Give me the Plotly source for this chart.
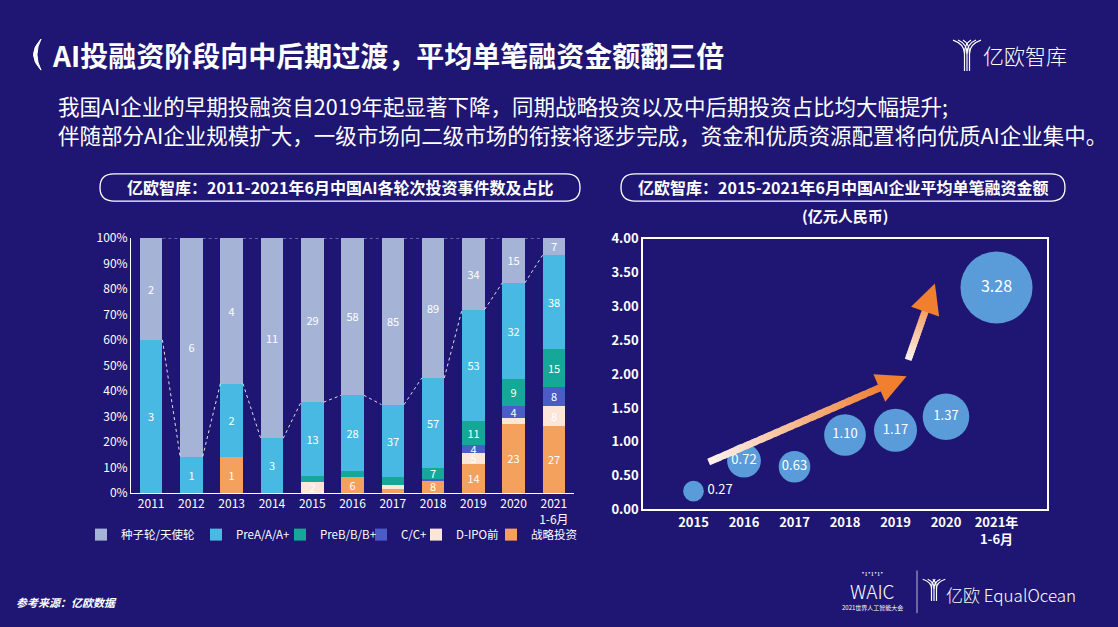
import numpy as np
import plotly.graph_objects as go

W, H = 1118, 627
def px(x): return x / W
def py(y): return 1 - y / H

# ---------------- data ----------------
years = ["2011", "2012", "2013", "2014", "2015", "2016", "2017", "2018", "2019", "2020", "2021<br>1-6月"]
seed  = [2, 6, 4, 11, 29, 58, 85, 89, 34, 15, 7]     # 种子轮/天使轮
prea  = [3, 1, 2, 3, 13, 28, 37, 57, 53, 32, 38]     # PreA/A/A+
preb  = [0, 0, 0, 0, 1, 2, 4, 7, 11, 9, 15]          # PreB/B/B+
cround = [0, 0, 0, 0, 0, 0, 0, 1, 4, 4, 8]           # C/C+
dipo  = [0, 0, 0, 0, 2, 0, 2, 0, 5, 2, 8]            # D-IPO前
strat = [0, 0, 1, 0, 0, 6, 2, 8, 14, 23, 27]         # 战略投资

amt_years = ["2015", "2016", "2017", "2018", "2019", "2020", "2021年<br>1-6月"]
amounts = [0.27, 0.72, 0.63, 1.10, 1.17, 1.37, 3.28]

# ---------------- styles ----------------
BG = "#1e1672"
FONT = "Noto Sans CJK SC"
series = [  # bottom -> top
    ("战略投资", strat, "#f4a15d"),
    ("D-IPO前", dipo, "#fbe6d8"),
    ("C/C+", cround, "#4b5cc6"),
    ("PreB/B/B+", preb, "#15a898"),
    ("PreA/A/A+", prea, "#47b9e2"),
    ("种子轮/天使轮", seed, "#a5b4d6"),
]
legend_sq_left = {"种子轮/天使轮": 103, "PreA/A/A+": 218, "PreB/B/B+": 302,
                  "C/C+": 383, "D-IPO前": 438, "战略投资": 513}
legend_keys = {"种子轮/天使轮": "legend", "PreA/A/A+": "legend2", "PreB/B/B+": "legend3",
               "C/C+": "legend4", "D-IPO前": "legend5", "战略投资": "legend6"}

arr = {name: np.array(v, dtype=float) for name, v, _ in series}
total = sum(arr.values())
xs = np.arange(len(years))
BW = 0.56

fig = go.Figure()

for name, vals, color in series:
    v = np.array(vals, dtype=float)
    share = v / total
    txt = [str(int(a)) if s > 0.032 else "" for a, s in zip(v, share)]
    fig.add_trace(go.Bar(
        x=xs, y=share, width=BW, name=name, marker=dict(color=color, line=dict(width=0)),
        text=txt, textposition="inside", insidetextanchor="middle", textangle=0,
        textfont=dict(color="white", size=11, family=FONT),
        xaxis="x", yaxis="y", legend=legend_keys[name], hoverinfo="skip",
    ))

# series (connector) lines
cum_prea = (arr["战略投资"] + arr["D-IPO前"] + arr["C/C+"] + arr["PreB/B/B+"] + arr["PreA/A/A+"]) / total
lx, ly, tx, ty = [], [], [], []
for i in range(len(xs) - 1):
    lx += [xs[i] + BW / 2, xs[i + 1] - BW / 2, None]
    ly += [cum_prea[i], cum_prea[i + 1], None]
    tx += [xs[i] + BW / 2, xs[i + 1] - BW / 2, None]
    ty += [1.0, 1.0, None]
for X, Y in ((lx, ly), (tx, ty)):
    fig.add_trace(go.Scatter(x=X, y=Y, mode="lines", showlegend=False, hoverinfo="skip",
                             line=dict(color="rgba(255,255,255,0.85)", width=1, dash="dot"),
                             xaxis="x", yaxis="y"))

# bubble chart
amt = np.array(amounts)
bx = np.arange(len(amt_years))
sizes = 39.8 * np.sqrt(amt)
tpos = ["middle right" if a < 0.5 else "middle center" for a in amt]
tsize = [16 if a > 3 else 13 for a in amt]
fig.add_trace(go.Scatter(
    x=bx, y=amt, mode="markers+text", showlegend=False, hoverinfo="skip",
    marker=dict(size=sizes, sizemode="diameter", color="#5a9bd9", line=dict(width=0), opacity=1),
    text=[f"{a:.2f}" for a in amt], textposition=tpos,
    textfont=dict(color="white", size=tsize, family=FONT),
    xaxis="x2", yaxis="y2",
))

shapes = []
annotations = []

# gradient arrows (decoration)
def grad_arrow(x0, y0, x1, y1, n=24, head_frac=0.12, width=7):
    c0 = np.array([255, 244, 240]); c1 = np.array([240, 128, 48])
    xe = x0 + (x1 - x0) * (1 - head_frac); ye = y0 + (y1 - y0) * (1 - head_frac)
    for k in range(n):
        t0, t1 = k / n, min(1.0, (k + 1.6) / n)
        c = (c0 + (c1 - c0) * (k + 0.5) / n).astype(int)
        shapes.append(dict(type="line", xref="x2", yref="y2",
                           x0=x0 + (xe - x0) * t0, y0=y0 + (ye - y0) * t0,
                           x1=x0 + (xe - x0) * t1, y1=y0 + (ye - y0) * t1,
                           line=dict(color=f"rgb({c[0]},{c[1]},{c[2]})", width=width)))
    annotations.append(dict(x=x1, y=y1, ax=xe, ay=ye, xref="x2", yref="y2", axref="x2", ayref="y2",
                            text="", showarrow=True, arrowhead=2, arrowsize=0.85, arrowwidth=width,
                            arrowcolor="rgb(240,128,48)", standoff=0))

grad_arrow(0.30, 0.70, 4.22, 1.97)
grad_arrow(4.25, 2.21, 4.78, 3.34)

# title bracket
shapes.append(dict(type="path", xref="paper", yref="paper",
                   path=f"M {px(41)},{py(30)} Q {px(26)},{py(46)} {px(41)},{py(62)} Q {px(33)},{py(46)} {px(41)},{py(30)} Z",
                   fillcolor="white", line=dict(color="white", width=1)))

# rounded title boxes
def pill(x0, y0, x1, y1):
    r = (y1 - y0) / 2
    p = (f"M {px(x0 + r)},{py(y0)} L {px(x1 - r)},{py(y0)} "
         f"Q {px(x1)},{py(y0)} {px(x1)},{py(y0 + r)} Q {px(x1)},{py(y1)} {px(x1 - r)},{py(y1)} "
         f"L {px(x0 + r)},{py(y1)} Q {px(x0)},{py(y1)} {px(x0)},{py(y0 + r)} "
         f"Q {px(x0)},{py(y0)} {px(x0 + r)},{py(y0)} Z")
    shapes.append(dict(type="path", xref="paper", yref="paper", path=p,
                       line=dict(color="white", width=1.3)))

pill(100, 169, 580, 197)
pill(621, 169, 1065, 197)

# logo icon (top right) and footer logo icon
def y_icon(x, y, s):
    for dx in (-2.5, 0, 2.5):
        shapes.append(dict(type="path", xref="paper", yref="paper",
                           path=f"M {px(x + dx - 9*s + dx)},{py(y)} Q {px(x + dx)},{py(y + 4*s)} {px(x + dx)},{py(y + 14*s)} L {px(x + dx)},{py(y + 32*s)}",
                           line=dict(color="white", width=1.2)))
        shapes.append(dict(type="path", xref="paper", yref="paper",
                           path=f"M {px(x + dx + 9*s + dx)},{py(y)} Q {px(x + dx)},{py(y + 4*s)} {px(x + dx)},{py(y + 14*s)}",
                           line=dict(color="white", width=1.2)))

y_icon(967, 31, 1.0)
y_icon(934, 587, 0.7)
shapes.append(dict(type="line", xref="paper", yref="paper", x0=px(917), x1=px(917), y0=py(578), y1=py(622),
                   line=dict(color="rgba(255,255,255,0.7)", width=1)))

def text(x, y, s, size, xanchor="left", bold=False, color="white", weight=None):
    annotations.append(dict(x=px(x), y=py(y), xref="paper", yref="paper", text=s, showarrow=False,
                            xanchor=xanchor, yanchor="middle",
                            font=dict(family=FONT, size=size, color=color,
                                      weight=weight if weight else ("bold" if bold else "normal"))))

text(50, 46, "AI投融资阶段向中后期过渡，平均单笔融资金额翻三倍", 28, bold=True)
text(981, 46, "亿欧智库", 21, weight=300)
text(56, 98, "我国AI企业的早期投融资自2019年起显著下降，同期战略投资以及中后期投资占比均大幅提升;", 21.5)
text(56, 128, "伴随部分AI企业规模扩大，一级市场向二级市场的衔接将逐步完成，资金和优质资源配置将向优质AI企业集中。", 21.5)
text(340, 183, "亿欧智库：2011-2021年6月中国AI各轮次投资事件数及占比", 16, xanchor="center", bold=True)
text(843, 183, "亿欧智库：2015-2021年6月中国AI企业平均单笔融资金额", 16, xanchor="center", bold=True)
text(845, 212, "(亿元人民币)", 15, xanchor="center", bold=True)
text(14, 610, "<i>参考来源：亿欧数据</i>", 11, bold=True)
text(872, 580, "˙ı˙ı˙ı˙", 8, xanchor="center")
text(872, 599, "WAIC", 19, xanchor="center", weight=300)
text(872, 616, "2021世界人工智能大会", 6, xanchor="center")
text(944, 603, "亿欧 EqualOcean", 17, weight=300)

fig.update_layout(
    width=W, height=H, margin=dict(l=0, r=0, t=0, b=0),
    paper_bgcolor=BG, plot_bgcolor="rgba(0,0,0,0)",
    barmode="stack", bargap=0,
    font=dict(family=FONT, color="white"),
    shapes=shapes, annotations=annotations,
    uniformtext=dict(minsize=11, mode="show"),
    xaxis=dict(domain=[px(131), px(574)], range=[-0.5, 10.5], tickvals=xs, ticktext=years,
               showgrid=False, zeroline=False, showline=True, linecolor="white", linewidth=1,
               ticks="", tickfont=dict(size=12, color="white", family=FONT), fixedrange=True),
    yaxis=dict(domain=[py(498), py(235)], range=[0, 1.0], dtick=0.1, tickformat=".0%",
               showgrid=False, zeroline=False, showline=True, linecolor="white", linewidth=1,
               ticks="", tickfont=dict(size=12, color="white", family=FONT), fixedrange=True),
    xaxis2=dict(domain=[px(643), px(1047)], range=[-1, 7], tickvals=bx, ticktext=amt_years,
                anchor="y2", showgrid=False, zeroline=False, showline=True, mirror=True,
                linecolor="white", linewidth=1.5, ticks="",
                tickfont=dict(size=13, color="white", family=FONT, weight=600), fixedrange=True),
    yaxis2=dict(domain=[py(515), py(236)], range=[0, 4], dtick=0.5, tickformat=".2f",
                anchor="x2", showgrid=False, zeroline=False, showline=True, mirror=True,
                linecolor="white", linewidth=1.5, ticks="",
                tickfont=dict(size=13, color="white", family=FONT, weight=600), fixedrange=True),
)

for name, key in legend_keys.items():
    fig.update_layout({key: dict(orientation="h", x=px(legend_sq_left[name] - 22), y=py(541),
                                 xanchor="left", yanchor="middle", bgcolor="rgba(0,0,0,0)",
                                 font=dict(size=11.5, color="white", family=FONT), itemclick=False)})

fig.write_html("out.html", config={"displayModeBar": False},
               post_script="document.body.style.margin='0';document.body.style.overflow='hidden';")
